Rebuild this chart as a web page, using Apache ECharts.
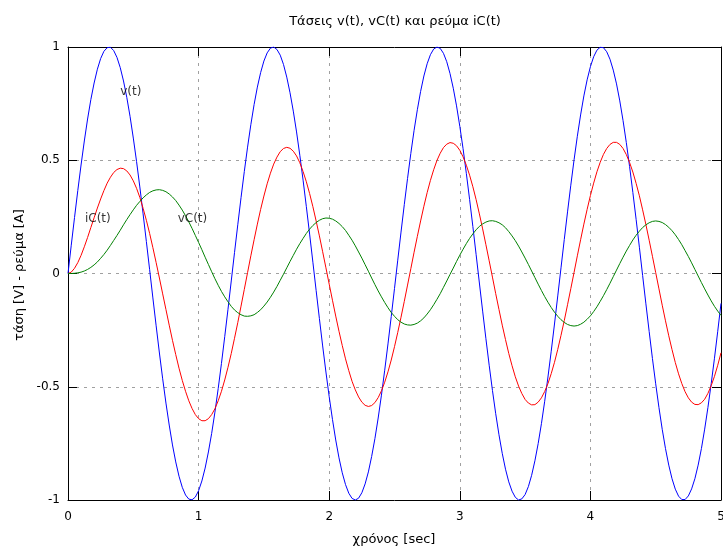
<!DOCTYPE html>
<html>
<head>
<meta charset="utf-8">
<title>Τάσεις v(t), vC(t) και ρεύμα iC(t)</title>
<script src="https://cdn.jsdelivr.net/npm/echarts@6/dist/echarts.min.js"></script>
<style>
  html, body { margin: 0; padding: 0; background: #fff; }
  #chart { width: 723px; height: 549px; }
</style>
</head>
<body>
<div id="chart"></div>
<script>
// sample step of the curves, in seconds (0 .. 5, 201 samples)
const STEP = 0.025;

// v(t): source voltage
const vData = [
  0, 0.125, 0.247, 0.366, 0.479, 0.585, 0.682, 0.768, 0.841, 0.902,
  0.949, 0.981, 0.997, 0.999, 0.984, 0.954, 0.909, 0.850, 0.778, 0.694,
  0.598, 0.494, 0.382, 0.263, 0.141, 0.017, -0.108, -0.231, -0.351, -0.465,
  -0.572, -0.669, -0.757, -0.832, -0.895, -0.944, -0.978, -0.996, -0.999, -0.987,
  -0.959, -0.916, -0.859, -0.788, -0.706, -0.612, -0.508, -0.397, -0.279, -0.158,
  -0.033, 0.092, 0.215, 0.335, 0.450, 0.558, 0.657, 0.746, 0.823, 0.887,
  0.938, 0.974, 0.995, 1.000, 0.989, 0.964, 0.923, 0.867, 0.798, 0.717,
  0.625, 0.522, 0.412, 0.295, 0.174, 0.050, -0.075, -0.199, -0.320, -0.435,
  -0.544, -0.644, -0.735, -0.814, -0.880, -0.932, -0.970, -0.993, -1.000, -0.992,
  -0.968, -0.929, -0.876, -0.808, -0.729, -0.638, -0.537, -0.427, -0.311, -0.190,
  -0.066, 0.059, 0.183, 0.304, 0.420, 0.530, 0.632, 0.723, 0.804, 0.872,
  0.926, 0.966, 0.991, 1.000, 0.994, 0.972, 0.935, 0.883, 0.818, 0.740,
  0.650, 0.551, 0.442, 0.327, 0.207, 0.083, -0.042, -0.166, -0.288, -0.405,
  -0.516, -0.619, -0.712, -0.794, -0.864, -0.920, -0.961, -0.988, -1.000, -0.995,
  -0.976, -0.941, -0.891, -0.827, -0.751, -0.663, -0.564, -0.457, -0.343, -0.223,
  -0.099, 0.025, 0.150, 0.272, 0.390, 0.502, 0.606, 0.700, 0.784, 0.855,
  0.913, 0.957, 0.986, 0.999, 0.997, 0.979, 0.946, 0.898, 0.837, 0.762,
  0.675, 0.578, 0.472, 0.358, 0.239, 0.116, -0.009, -0.134, -0.256, -0.375,
  -0.487, -0.592, -0.688, -0.773, -0.846, -0.906, -0.952, -0.983, -0.998, -0.998,
  -0.982, -0.951, -0.906, -0.846, -0.773, -0.687, -0.591, -0.486, -0.374, -0.255,
  -0.132
];

// vC(t): capacitor voltage (green)
const vcData = [
  0, 0.000, 0.001, 0.003, 0.006, 0.011, 0.018, 0.027, 0.038, 0.051,
  0.067, 0.084, 0.103, 0.124, 0.146, 0.168, 0.191, 0.215, 0.238, 0.260,
  0.281, 0.301, 0.318, 0.334, 0.347, 0.358, 0.365, 0.369, 0.370, 0.367,
  0.361, 0.351, 0.338, 0.322, 0.302, 0.280, 0.255, 0.228, 0.199, 0.168,
  0.137, 0.105, 0.072, 0.040, 0.008, -0.023, -0.052, -0.079, -0.103, -0.125,
  -0.145, -0.161, -0.173, -0.182, -0.188, -0.189, -0.187, -0.182, -0.172, -0.160,
  -0.144, -0.126, -0.105, -0.082, -0.057, -0.030, -0.003, 0.025, 0.053, 0.080,
  0.107, 0.132, 0.155, 0.177, 0.196, 0.212, 0.225, 0.235, 0.242, 0.245,
  0.244, 0.240, 0.232, 0.221, 0.207, 0.190, 0.169, 0.147, 0.122, 0.095,
  0.068, 0.039, 0.010, -0.020, -0.049, -0.077, -0.103, -0.128, -0.151, -0.172,
  -0.189, -0.204, -0.215, -0.223, -0.227, -0.228, -0.225, -0.219, -0.209, -0.196,
  -0.179, -0.160, -0.138, -0.114, -0.089, -0.061, -0.033, -0.004, 0.024, 0.053,
  0.081, 0.107, 0.132, 0.155, 0.175, 0.193, 0.208, 0.219, 0.227, 0.232,
  0.233, 0.230, 0.224, 0.215, 0.202, 0.185, 0.166, 0.145, 0.121, 0.095,
  0.068, 0.040, 0.011, -0.018, -0.047, -0.075, -0.102, -0.127, -0.150, -0.171,
  -0.189, -0.204, -0.216, -0.225, -0.230, -0.232, -0.230, -0.224, -0.215, -0.202,
  -0.187, -0.168, -0.147, -0.123, -0.098, -0.071, -0.043, -0.014, 0.015, 0.044,
  0.072, 0.099, 0.124, 0.148, 0.169, 0.187, 0.203, 0.215, 0.224, 0.230,
  0.232, 0.230, 0.225, 0.216, 0.204, 0.189, 0.171, 0.150, 0.127, 0.101,
  0.075, 0.047, 0.018, -0.011, -0.040, -0.068, -0.095, -0.121, -0.145, -0.166,
  -0.185
];

// iC(t): capacitor current (red)
const icData = [
  0, 0.006, 0.023, 0.048, 0.080, 0.118, 0.159, 0.203, 0.246, 0.289,
  0.329, 0.366, 0.399, 0.425, 0.446, 0.459, 0.465, 0.463, 0.453, 0.435,
  0.409, 0.376, 0.336, 0.288, 0.235, 0.177, 0.114, 0.048, -0.020, -0.090,
  -0.159, -0.228, -0.295, -0.358, -0.418, -0.472, -0.520, -0.562, -0.596, -0.623,
  -0.641, -0.650, -0.650, -0.641, -0.623, -0.597, -0.562, -0.520, -0.470, -0.414,
  -0.353, -0.286, -0.217, -0.144, -0.070, 0.004, 0.078, 0.149, 0.218, 0.283,
  0.342, 0.396, 0.443, 0.483, 0.514, 0.538, 0.552, 0.557, 0.553, 0.540,
  0.519, 0.489, 0.450, 0.405, 0.353, 0.295, 0.232, 0.166, 0.096, 0.025,
  -0.047, -0.118, -0.188, -0.255, -0.318, -0.377, -0.429, -0.476, -0.514, -0.545,
  -0.568, -0.582, -0.587, -0.583, -0.570, -0.548, -0.518, -0.480, -0.434, -0.382,
  -0.323, -0.260, -0.193, -0.123, -0.051, 0.021, 0.094, 0.164, 0.232, 0.297,
  0.357, 0.411, 0.458, 0.499, 0.531, 0.556, 0.571, 0.578, 0.575, 0.564,
  0.544, 0.515, 0.478, 0.434, 0.383, 0.326, 0.263, 0.197, 0.127, 0.056,
  -0.016, -0.089, -0.159, -0.228, -0.292, -0.353, -0.407, -0.456, -0.497, -0.530,
  -0.556, -0.572, -0.580, -0.579, -0.568, -0.549, -0.521, -0.486, -0.442, -0.392,
  -0.335, -0.273, -0.208, -0.138, -0.067, 0.005, 0.078, 0.149, 0.218, 0.283,
  0.344, 0.399, 0.449, 0.491, 0.526, 0.552, 0.570, 0.579, 0.579, 0.570,
  0.552, 0.525, 0.490, 0.448, 0.398, 0.343, 0.281, 0.216, 0.147, 0.076,
  0.004, -0.068, -0.140, -0.209, -0.275, -0.336, -0.393, -0.443, -0.486, -0.522,
  -0.549, -0.568, -0.578, -0.579, -0.571, -0.555, -0.529, -0.495, -0.454, -0.405,
  -0.350
];

// curve labels placed in data coordinates [t, value, text]
const curveLabels = [
  [0.4, 0.8, "v(t)"],
  [0.13, 0.24, "iC(t)"],
  [0.84, 0.24, "vC(t)"]
];

const FONT = "DejaVu Sans";
const time = vData.map((_, i) => Math.round(i * STEP * 1000) / 1000);
const pairs = (arr) => arr.map((y, i) => [time[i], y]);

const chart = echarts.init(document.getElementById("chart"), null, { renderer: "canvas" });

const tickStyle = { show: true, inside: true, length: 9, lineStyle: { color: "#000", width: 1 } };
const lineStyleAxis = { show: true, onZero: false, lineStyle: { color: "#000", width: 1 } };
const gridLine = {
  show: true,
  showMinLine: false,
  showMaxLine: false,
  lineStyle: { color: "#a0a0a0", width: 1, type: [3, 5] }
};

function curve(name, data, color) {
  return {
    name,
    type: "line",
    data: pairs(data),
    showSymbol: false,
    smooth: false,
    clip: true,
    lineStyle: { color, width: 1 },
    itemStyle: { color },
    z: 3
  };
}

chart.setOption({
  animation: false,
  textStyle: { fontFamily: FONT },
  grid: { left: 68, right: 2, top: 47, bottom: 49, containLabel: false, outerBoundsMode: "none" },
  xAxis: [
    {
      type: "value", min: 0, max: 5, interval: 1,
      axisLine: lineStyleAxis, axisTick: tickStyle,
      axisLabel: { color: "#000", fontSize: 12, fontFamily: FONT, margin: 11 },
      splitLine: gridLine
    },
    {
      type: "value", position: "top", min: 0, max: 5, interval: 1,
      axisLine: lineStyleAxis, axisTick: tickStyle,
      axisLabel: { show: false }, splitLine: { show: false }
    }
  ],
  yAxis: [
    {
      type: "value", min: -1, max: 1, interval: 0.5,
      axisLine: lineStyleAxis, axisTick: tickStyle,
      axisLabel: { color: "#000", fontSize: 12, fontFamily: FONT, margin: 8 },
      splitLine: gridLine
    },
    {
      type: "value", position: "right", min: -1, max: 1, interval: 0.5,
      axisLine: lineStyleAxis, axisTick: tickStyle,
      axisLabel: { show: false }, splitLine: { show: false }
    }
  ],
  graphic: [
    {
      type: "text", x: 395, y: 22,
      style: { text: "Τάσεις v(t), vC(t) και ρεύμα iC(t)", font: "13px '" + FONT + "'",
               fill: "#000", align: "center", verticalAlign: "middle" }
    },
    {
      type: "text", x: 394, y: 540,
      style: { text: "χρόνος [sec]", font: "13px '" + FONT + "'",
               fill: "#000", align: "center", verticalAlign: "middle" }
    },
    {
      type: "text", x: 20, y: 275, rotation: Math.PI / 2,
      style: { text: "τάση [V] - ρεύμα [A]", font: "13px '" + FONT + "'",
               fill: "#000", align: "center", verticalAlign: "middle" }
    }
  ],
  series: [
    curve("v(t)", vData, "#0000ff"),
    curve("iC(t)", icData, "#ff0000"),
    curve("vC(t)", vcData, "#008000"),
    {
      name: "labels",
      type: "scatter",
      data: curveLabels,
      symbolSize: 0,
      silent: true,
      z: 4,
      label: {
        show: true,
        position: "right",
        distance: 0,
        color: "#000",
        fontSize: 12,
        fontFamily: FONT,
        formatter: (p) => p.value[2]
      }
    }
  ]
});
</script>
</body>
</html>
